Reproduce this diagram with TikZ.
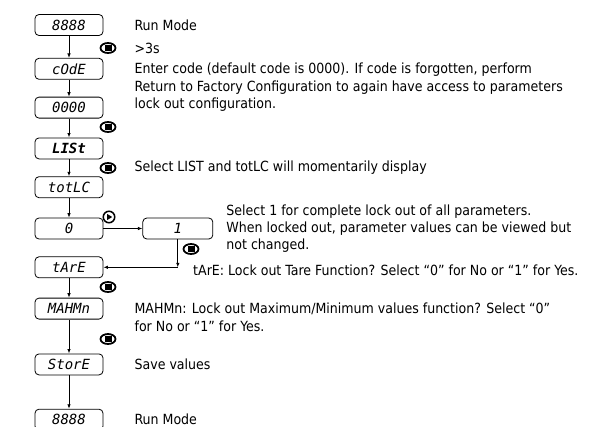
\documentclass[tikz,border=0pt]{standalone}
\usepackage{fontspec}
\setmainfont{DejaVu Sans Condensed}
\newfontfamily\segfont{DejaVu Sans Mono}
\usetikzlibrary{arrows.meta,positioning,shapes.geometric}

\begin{document}
\begin{tikzpicture}[
  x=1pt, y=-1pt,
  node distance=17pt and 31pt,
  disp/.style={draw, line width=0.8pt, rounded corners=4pt, minimum width=68pt,
    minimum height=21pt, inner sep=0pt, font=\segfont\itshape\fontsize{14}{14}\selectfont},
  note/.style={inner sep=0pt, align=left, font=\fontsize{14}{17.5}\selectfont},
  arrow/.style={-{Latex[length=4.5pt,width=3.5pt]}, line width=0.8pt},
  btn/.style={ellipse, draw, line width=1.8pt, minimum width=15pt, minimum height=10pt,
    inner sep=0pt, path picture={\fill ([xshift=-3.5pt,yshift=-3pt]path picture bounding box.center)
      rectangle ++(7pt,6pt);}},
  play/.style={circle, draw, line width=1.5pt, minimum size=11.5pt, inner sep=0pt,
    path picture={\fill ([xshift=-1.8pt,yshift=-3pt]path picture bounding box.center)
      -- ++(0pt,6pt) -- ++(5pt,-3pt) -- cycle;}}
]
\useasboundingbox (0,0) rectangle (605,426);

\node[disp] (run) at (69,25) {8888};
\node[disp, below=22pt of run] (code) {cOdE};
\node[disp, below=of code] (pass) {0000};
\node[disp, below=19pt of pass, font=\segfont\bfseries\itshape\fontsize{14}{14}\selectfont] (list) {LISt};
\node[disp, below=of list] (totlc) {totLC};
\node[disp, below=19.5pt of totlc] (zero) {0};
\node[disp, right=39pt of zero, minimum width=70pt] (one) {1};
\node[disp, below=of zero] (tare) {tArE};
\node[disp, below=19.5pt of tare] (mahmn) {MAHMn};
\node[disp, below=34pt of mahmn] (store) {StorE};
\node[disp, below=33.5pt of store] (runend) {8888};

\node[btn] (hold) at (108,48) {};
\node[btn] (enter) at (108,127) {};
\node[btn] (sel) at (108,168) {};
\node[play] (up) at (109,217) {};
\node[btn] (lock) at (191,249) {};
\node[btn] (tarebtn) at (108,287) {};
\node[btn] (mahmnbtn) at (108,339) {};

\node[note, right=31pt of run] (runtxt) {Run Mode};
\node[note, anchor=west] (holdtxt) at (runtxt.west |- hold) {>3s};
\node[note, anchor=north west] (codetxt) at ([yshift=-5pt]runtxt.west |- code.north)
  {Enter code (default code is 0000). If code is forgotten, perform\\
   Return to Factory Configuration to again have access to parameters\\
   lock out configuration.};
\node[note, anchor=west] (listtxt) at (runtxt.west |- sel)
  {Select LIST and totLC will momentarily display};
\node[note, right=13pt of one, font=\fontsize{14}{17}\selectfont] (onetxt)
  {Select 1 for complete lock out of all parameters.\\
   When locked out, parameter values can be viewed but\\
   not changed.};
\node[note, anchor=west] (taretxt) at (193,270)
  {tArE: Lock out Tare Function? Select “0” for No or “1” for Yes.};
\node[note, anchor=north west] (mahmntxt) at ([yshift=-5pt]runtxt.west |- mahmn.north)
  {MAHMn: Lock out Maximum/Minimum values function? Select “0”\\
   for No or “1” for Yes.};
\node[note, right=31pt of store] (storetxt) {Save values};
\node[note, right=31pt of runend] (endtxt) {Run Mode};

\coordinate (bend) at (one.south |- tare.east);

\draw[arrow] (run) -- (code);
\draw[arrow] (code) -- (pass);
\draw[arrow] (pass) -- (list);
\draw[arrow] (list) -- (totlc);
\draw[arrow] (totlc) -- (zero);
\draw[arrow] (zero) -- (one);
\draw[arrow] (one) -- (bend);
\draw[arrow] (bend) -- (tare);
\draw[arrow] (tare) -- (mahmn);
\draw[arrow] (mahmn) -- (store);
\draw[arrow] (store) -- (runend);
\end{tikzpicture}
\end{document}
